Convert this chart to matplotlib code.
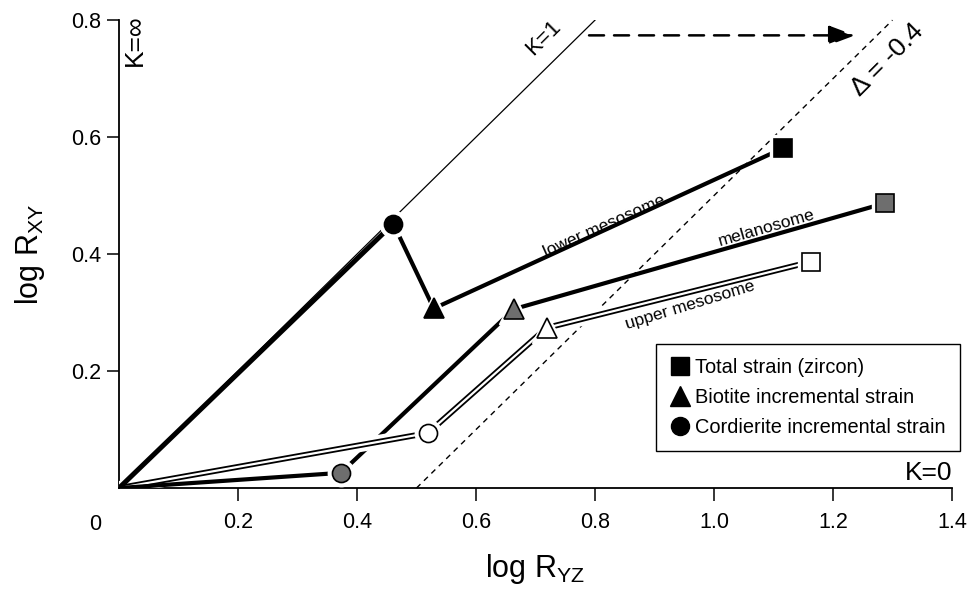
import numpy as np
import matplotlib
matplotlib.use("Agg")
from matplotlib import pyplot as plt
import matplotlib.patheffects as pe

plt.rcParams['font.family'] = ['Liberation Sans', 'DejaVu Sans']

# strain paths (log R_YZ, log R_XY)
lower_x = [0.0, 0.461, 0.529, 1.116]
lower_y = [0.0, 0.452, 0.307, 0.581]
mel_x = [0.0, 0.373, 0.664, 1.287]
mel_y = [0.0, 0.026, 0.306, 0.487]
upper_x = [0.0, 0.519, 0.719, 1.163]
upper_y = [0.0, 0.094, 0.274, 0.387]

xticks = [0.2, 0.4, 0.6, 0.8, 1.0, 1.2, 1.4]
xlabels = ['0.2', '0.4', '0.6', '0.8', '1.0', '1.2', '1.4']
yticks = [0.2, 0.4, 0.6, 0.8]
ylabels = ['0.2', '0.4', '0.6', '0.8']

fig = plt.figure(figsize=(9.7, 5.93), dpi=100)
ax = fig.add_axes([0.1227, 0.177, 0.8587, 0.789])
ax.set_xlim(0, 1.4)
ax.set_ylim(0, 0.8)

# reference lines
ax.plot([0, 0.8], [0, 0.8], color='black', lw=0.9, zorder=1)
ax.plot([0.5, 1.3], [0, 0.8], color='black', lw=1.0, ls=(0, (4, 3.5)), zorder=1, clip_on=False)
ax.annotate('', xy=(1.237, 0.774), xytext=(0.79, 0.774),
            arrowprops=dict(arrowstyle='-|>,head_length=1.6,head_width=0.6', color='black',
                            lw=1.8, ls=(0, (6, 4)), shrinkA=0, shrinkB=0),
            annotation_clip=False)

lw = 3.0
# melanosome (black line, broken where the double line crosses)
ax.plot(mel_x[1:], mel_y[1:], color='black', lw=lw, solid_capstyle='butt', zorder=2)

# upper mesosome double line with white halo
ax.plot(upper_x, upper_y, color='white', lw=1.6, solid_capstyle='butt', zorder=3,
        path_effects=[pe.Stroke(linewidth=10, foreground='white'),
                      pe.Stroke(linewidth=4.2, foreground='black'),
                      pe.Normal()])

# lower mesosome + first melanosome segment on top
ax.plot(lower_x[:2], lower_y[:2], color='black', lw=3.6, solid_capstyle='butt', zorder=4)
ax.plot(lower_x[1:], lower_y[1:], color='black', lw=lw, solid_capstyle='butt', zorder=4)
ax.plot(mel_x[:2], mel_y[:2], color='black', lw=lw, solid_capstyle='butt', zorder=4)

# markers: white halo then symbol
kinds = ['o', '^', 's']
sizes = [13, 15, 13]
for xs, ys, fc in [(lower_x, lower_y, 'black'), (mel_x, mel_y, '#6e6e6e'), (upper_x, upper_y, 'white')]:
    for i in range(3):
        ax.plot(xs[i + 1], ys[i + 1], marker=kinds[i], ms=sizes[i] + 6, color='white',
                mec='white', ls='none', zorder=5, clip_on=False)
        ax.plot(xs[i + 1], ys[i + 1], marker=kinds[i], ms=sizes[i], mfc=fc, mec='black',
                mew=1.2, ls='none', zorder=6, clip_on=False)

# labels
ax.text(0.713, 0.769, 'K=1', rotation=45, ha='center', va='center', fontsize=16, clip_on=False)
ax.text(1.292, 0.732, 'Δ = -0.4', rotation=45, ha='center', va='center', fontsize=19, clip_on=False)
ax.text(0.027, 0.765, 'K=∞', rotation=90, ha='center', va='center', fontsize=19, clip_on=False)
ax.text(1.36, 0.026, 'K=0', ha='center', va='center', fontsize=19)
ax.text(0.815, 0.448, 'lower mesosome', rotation=24, ha='center', va='center', fontsize=12.5)
ax.text(1.089, 0.444, 'melanosome', rotation=16, ha='center', va='center', fontsize=12.5)
ax.text(0.96, 0.313, 'upper mesosome', rotation=17, ha='center', va='center', fontsize=12.5)

# legend
h1, = ax.plot([], [], 's', color='black', ms=13)
h2, = ax.plot([], [], '^', color='black', ms=15)
h3, = ax.plot([], [], 'o', color='black', ms=13)
leg = ax.legend([h1, h2, h3], ['Total strain (zircon)', 'Biotite incremental strain',
                               'Cordierite incremental strain'],
                loc='lower right', bbox_to_anchor=(1.0096, 0.079), fontsize=14.4,
                fancybox=False, framealpha=1, edgecolor='black', handlelength=1.0,
                handletextpad=0.25, labelspacing=0.55, borderpad=0.7, borderaxespad=0)
leg.get_frame().set_linewidth(1.0)
leg.set_zorder(7)

# axes styling
for s in ['top', 'right']:
    ax.spines[s].set_visible(False)
for s in ['left', 'bottom']:
    ax.spines[s].set_linewidth(1.3)
ax.set_xticks(xticks)
ax.set_xticklabels(xlabels)
ax.set_yticks(yticks)
ax.set_yticklabels(ylabels)
ax.tick_params(direction='out', length=9, width=1.1, labelsize=15.5)
ax.tick_params(axis='x', pad=8)
ax.tick_params(axis='y', pad=4)
ax.text(-0.04, -0.062, '0', ha='center', va='center', fontsize=15.5, clip_on=False)
ax.set_xlabel('log R$_{\\mathregular{YZ}}$', fontsize=22, labelpad=14)
ax.set_ylabel('log R$_{\\mathregular{XY}}$', fontsize=22, labelpad=17)

plt.savefig('out.png', dpi=100)
